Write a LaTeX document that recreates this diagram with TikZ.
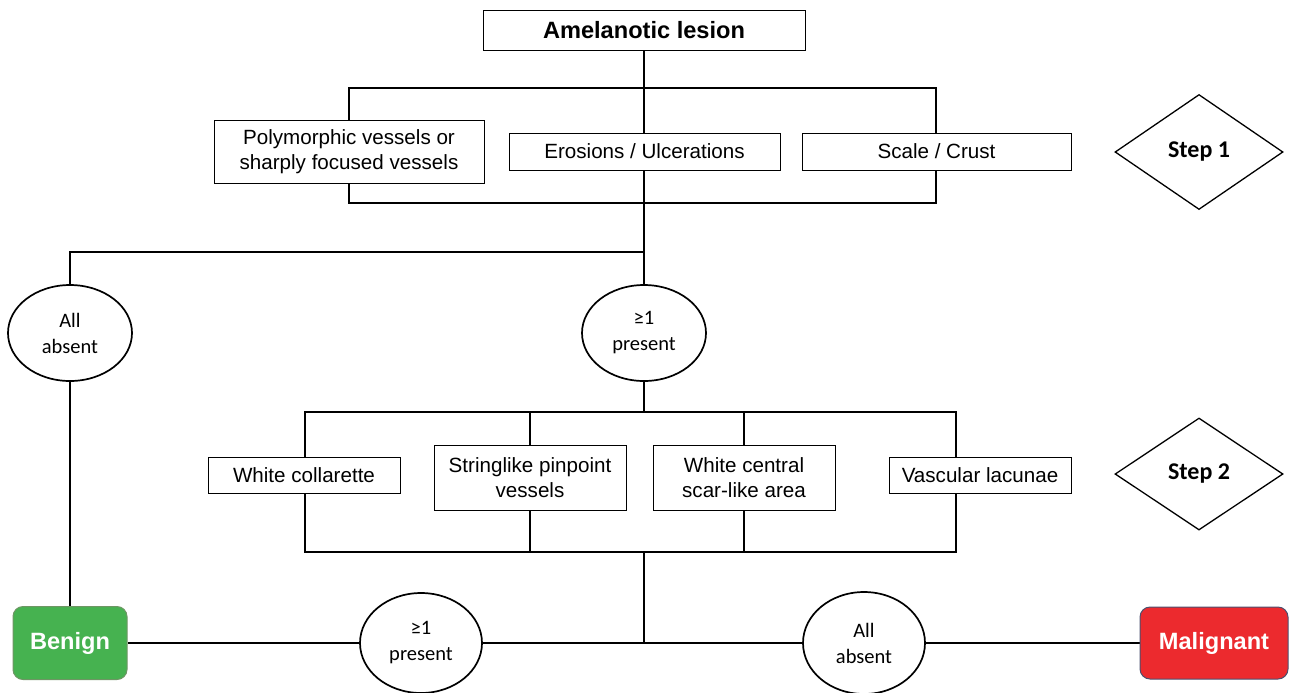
\documentclass[tikz,border=0pt]{standalone}
\usepackage{fontspec}
\setmainfont{Liberation Sans}
\newfontfamily\calibri{Carlito}
\usetikzlibrary{shapes.geometric, backgrounds}

\definecolor{benignfill}{RGB}{70,178,80}
\definecolor{benignline}{RGB}{110,150,100}
\definecolor{maligfill}{RGB}{236,42,46}
\definecolor{maligline}{RGB}{75,80,110}

\begin{document}
\begin{tikzpicture}[x=0.5pt, y=-0.5pt,
    box/.style={draw, fill=white, line width=0.5pt, align=center, inner sep=0pt,
        font=\fontsize{10.3}{12.5}\selectfont},
    oval/.style={draw, fill=white, ellipse, line width=0.85pt, inner sep=0pt, align=center,
        minimum width=62pt, minimum height=48pt, font=\calibri\fontsize{10.25}{13}\selectfont},
    stepbox/.style={draw, diamond, line width=0.65pt, inner sep=0pt,
        minimum width=84pt, minimum height=57.5pt, font=\calibri\bfseries\fontsize{12}{14}\selectfont},
    result/.style={draw, rounded corners=5pt, line width=0.5pt, inner sep=0pt, text=white,
        minimum height=36.5pt, font=\bfseries\fontsize{11.8}{14}\selectfont},
    link/.style={line width=1.1pt}]
    \useasboundingbox (0,0) rectangle (1290,692);

    \node[box, minimum width=161pt, minimum height=20pt, font=\bfseries\fontsize{11.8}{14}\selectfont] (lesion) at (644,30) {Amelanotic lesion};
    \node[box, minimum width=135pt, minimum height=31.5pt] (poly) at (349,151.5) {Polymorphic vessels or\\sharply focused vessels};
    \node[box, minimum width=135.5pt, minimum height=18.5pt] (erosion) at (644.5,151.5) {Erosions / Ulcerations};
    \node[box, minimum width=134.5pt, minimum height=18.5pt] (scale) at (936.5,151.5) {Scale / Crust};
    \node[stepbox] (step1) at (1199,152) {Step 1};

    \node[oval] (absent1) at (70,333) {All\\absent};
    \node[oval] (present1) at (644,333) {≥1\\present};

    \node[box, minimum width=96pt, minimum height=18pt] (collar) at (304,475) {White collarette};
    \node[box, minimum width=96pt, minimum height=32.5pt] (string) at (530,477.5) {Stringlike pinpoint\\vessels};
    \node[box, minimum width=91pt, minimum height=32.5pt] (scar) at (744,477.5) {White central\\scar-like area};
    \node[box, minimum width=91pt, minimum height=18pt] (lacunae) at (980,475) {Vascular lacunae};
    \node[stepbox, minimum height=56pt] (step2) at (1199,474) {Step 2};

    \node[result, fill=benignfill, draw=benignline, minimum width=57pt] (benign) at (70,643) {Benign};
    \node[oval, minimum width=61pt, minimum height=50pt] (present2) at (421,643) {≥1\\present};
    \node[oval, minimum width=61pt, minimum height=51pt] (absent2) at (864,643) {All\\absent};
    \node[result, fill=maligfill, draw=maligline, minimum width=74pt, minimum height=36pt] (malignant) at (1214,643) {Malignant};

    \begin{scope}[on background layer={link}]
        \coordinate (b1a) at (349,88);
        \coordinate (b1b) at (936,203);
        \coordinate (b2a) at (305,412);
        \coordinate (b2b) at (956,552);
        \coordinate (fork1) at (644,252);
        \coordinate (fork2) at (644,552);
        \coordinate (join) at (644,643);
        \draw (b1a) rectangle (b1b);
        \draw (b2a) rectangle (b2b);
        \draw (string |- b2a) -- (string |- b2b);
        \draw (scar |- b2a) -- (scar |- b2b);
        \draw (lesion) -- (present1);
        \draw (fork1) -| (absent1);
        \draw (absent1) -- (benign);
        \draw (present1) -- (present1 |- b2a);
        \draw (fork2) -- (join);
        \draw (benign) -- (malignant);
    \end{scope}
\end{tikzpicture}
\end{document}
